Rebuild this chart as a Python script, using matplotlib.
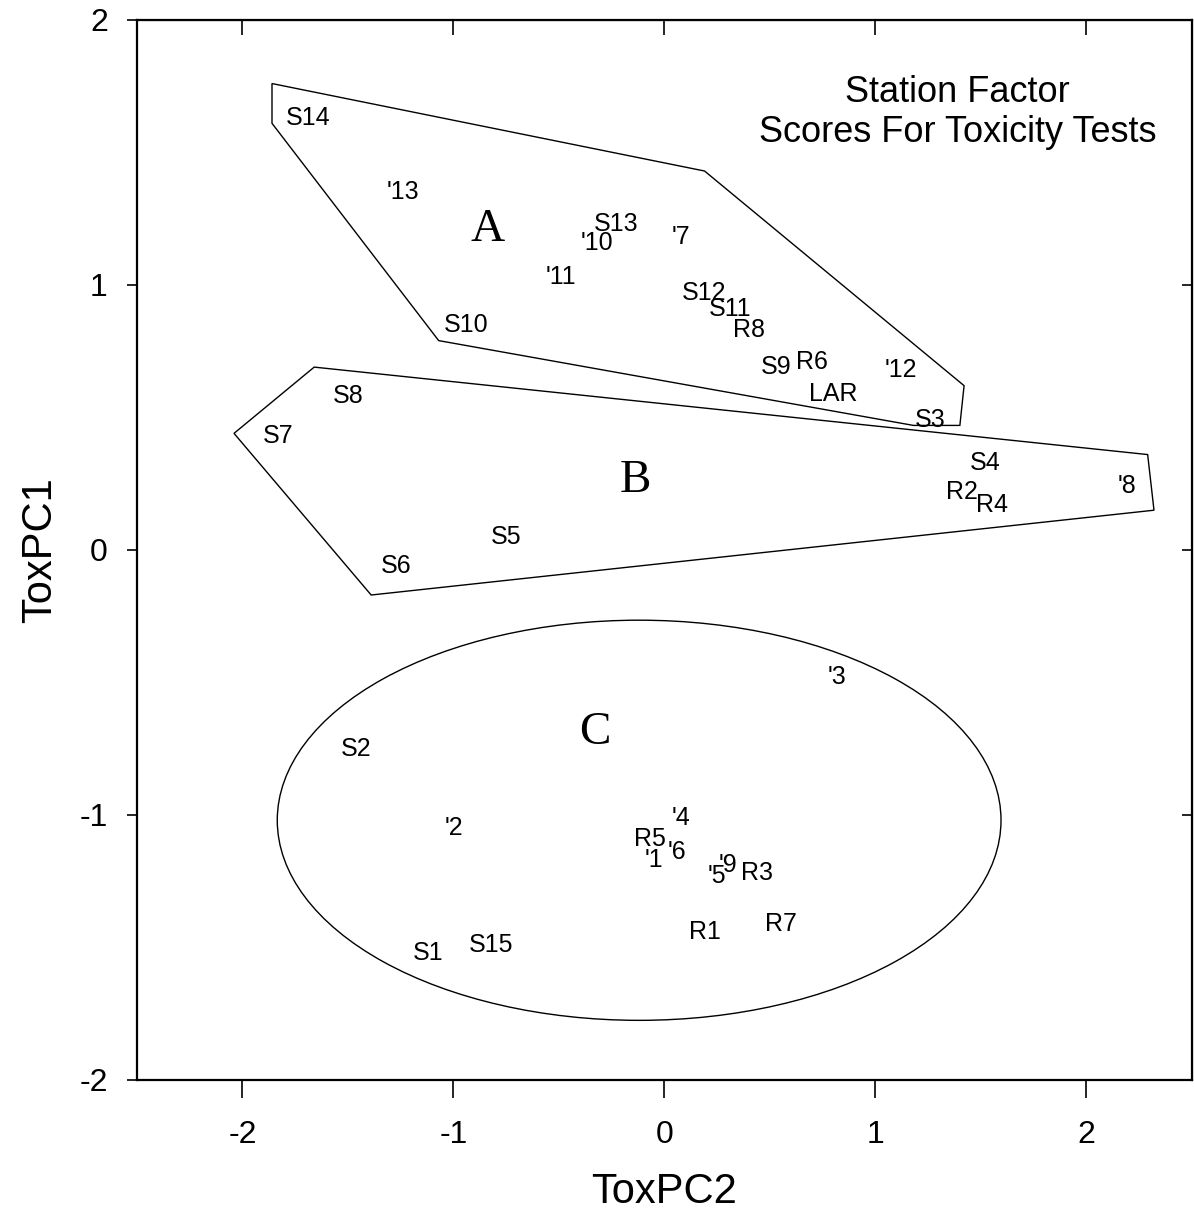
import matplotlib
matplotlib.use('Agg')
import matplotlib.pyplot as plt
from matplotlib.patches import Polygon, Ellipse

plt.rcParams['font.family'] = ['Liberation Sans', 'DejaVu Sans']
plt.rcParams['axes.unicode_minus'] = False

# station factor scores (ToxPC2, ToxPC1)
stations = ['S14', "'13", 'S13', "'10", "'7", "'11", 'S12', 'S11', 'R8', 'S10',
            'S9', 'R6', "'12", 'LAR', 'S3', 'S8', 'S7', 'S4', 'R2', 'R4', "'8",
            'S5', 'S6', "'3", 'S2', "'2", "'4", 'R5', "'6", "'1", "'9", "'5",
            'R3', 'R1', 'R7', 'S1', 'S15']
pc2 = [-1.69, -1.24, -0.23, -0.32, 0.08, -0.49, 0.19, 0.31, 0.40, -0.94,
       0.53, 0.70, 1.12, 0.80, 1.26, -1.50, -1.83, 1.52, 1.41, 1.55, 2.19,
       -0.75, -1.27, 0.82, -1.46, -1.00, 0.08, -0.07, 0.06, -0.05, 0.30, 0.25,
       0.44, 0.19, 0.55, -1.12, -0.82]
pc1 = [1.63, 1.35, 1.23, 1.16, 1.18, 1.03, 0.97, 0.91, 0.83, 0.85,
       0.69, 0.71, 0.68, 0.59, 0.49, 0.58, 0.43, 0.33, 0.22, 0.17, 0.24,
       0.05, -0.06, -0.48, -0.75, -1.05, -1.01, -1.09, -1.14, -1.17, -1.19, -1.23,
       -1.22, -1.44, -1.41, -1.52, -1.49]

# group outlines
hull_a = [(-1.86, 1.76), (-1.86, 1.61), (-1.07, 0.79), (1.18, 0.47),
          (1.40, 0.47), (1.42, 0.62), (0.19, 1.43)]
hull_b = [(-2.04, 0.44), (-1.66, 0.69), (2.29, 0.36), (2.32, 0.15),
          (-1.39, -0.17)]
ell_c_center = (-0.12, -1.02)
ell_c_width = 3.43
ell_c_height = 1.51

groups = ['A', 'B', 'C']
group_x = [-0.84, -0.14, -0.33]
group_y = [1.21, 0.26, -0.69]

ticks = [-2, -1, 0, 1, 2]

fig = plt.figure(figsize=(11.94, 12.17), dpi=100)
ax = fig.add_axes([0.1147, 0.1126, 0.8836, 0.871])

ax.add_patch(Polygon(hull_a, closed=True, fill=False, lw=1.0, ec='black'))
ax.add_patch(Polygon(hull_b, closed=True, fill=False, lw=1.0, ec='black'))
ax.add_patch(Ellipse(ell_c_center, ell_c_width, ell_c_height,
                     fill=False, lw=1.0, ec='black'))

for name, x, y in zip(stations, pc2, pc1):
    ax.text(x, y, name, ha='center', va='center', fontsize=18)

for g, x, y in zip(groups, group_x, group_y):
    ax.text(x, y, g, ha='center', va='center', fontsize=34,
            family='Liberation Serif')

ax.text(1.39, 1.65, 'Station Factor\nScores For Toxicity Tests',
        ha='center', va='center', fontsize=26, linespacing=1.2)

ax.set_xlim(-2.5, 2.5)
ax.set_ylim(-2, 2)
ax.set_xticks(ticks)
ax.set_yticks(ticks)
ax.tick_params(axis='x', direction='out', length=13, width=1.2,
               labelsize=23, pad=16)
ax.tick_params(axis='y', direction='out', length=7, width=1.2,
               labelsize=23, pad=14)
for s in ax.spines.values():
    s.set_linewidth(1.6)

# inward ticks on the top and right edges
sec_x = ax.secondary_xaxis('top')
sec_x.set_xticks(ticks)
sec_x.tick_params(direction='in', length=11, width=1.2)
sec_x.set_xticklabels([])
sec_y = ax.secondary_yaxis('right')
sec_y.set_yticks(ticks)
sec_y.tick_params(direction='in', length=7, width=1.2)
sec_y.set_yticklabels([])

ax.set_xlabel('ToxPC2', fontsize=30, labelpad=16)
ax.set_ylabel('ToxPC1', fontsize=30, labelpad=14)

plt.savefig('out.png', dpi=100)
